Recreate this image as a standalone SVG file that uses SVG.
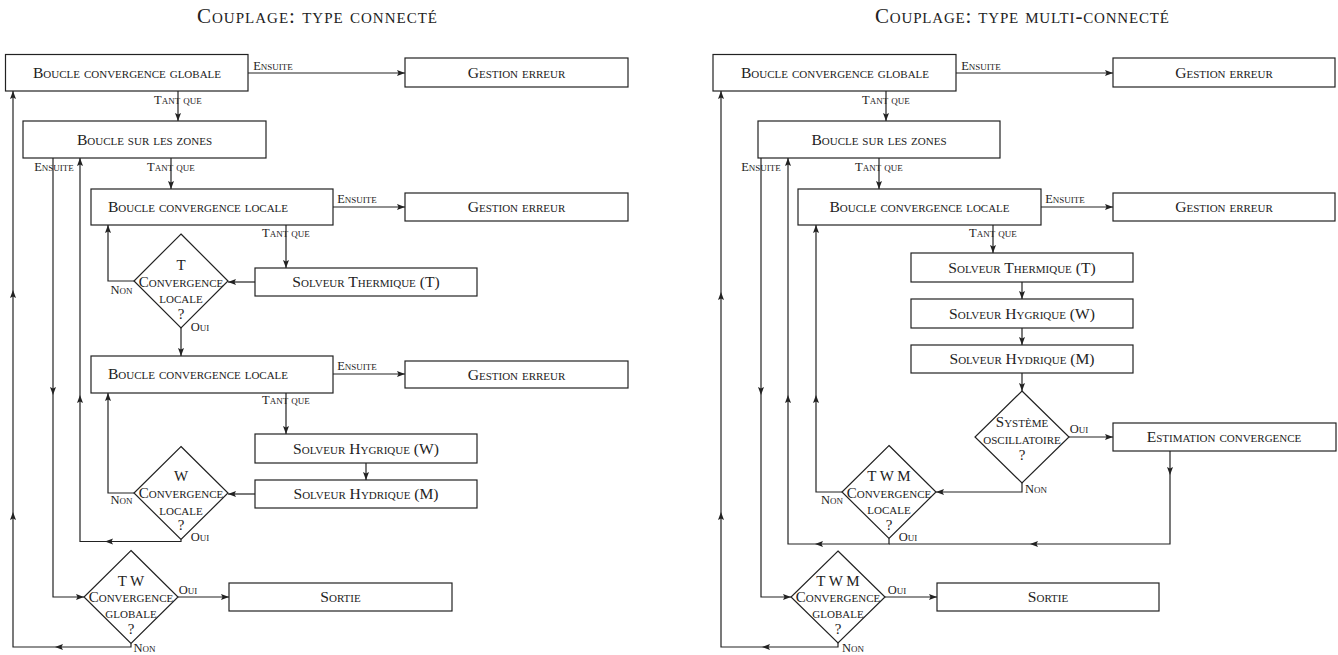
<svg xmlns="http://www.w3.org/2000/svg" width="1338" height="655" viewBox="0 0 1338 655">
<style>
.b{fill:#fff;stroke:#222;stroke-width:1.2}
.t{font-family:"Liberation Serif",serif;font-variant:small-caps;font-size:15.6px;fill:#222;text-anchor:middle}
.d{font-family:"Liberation Serif",serif;font-variant:small-caps;font-size:15px;fill:#222;text-anchor:middle}
.s{font-family:"Liberation Serif",serif;font-variant:small-caps;font-size:12.5px;fill:#222;text-anchor:middle}
.h{font-family:"Liberation Serif",serif;font-variant:small-caps;font-size:21px;fill:#222;text-anchor:middle}
.c{fill:none;stroke:#222;stroke-width:1.2}
.a{marker-end:url(#ar)}
</style>
<defs>
<marker id="ar" markerUnits="userSpaceOnUse" markerWidth="9" markerHeight="7" refX="8" refY="3" orient="auto">
<path d="M0,0 L8,3 L0,6 L1.5,3 z" fill="#222"/>
</marker>
</defs>

<text class="h" x="317" y="23" textLength="240">Couplage: type connecté</text>
<text class="h" x="1022" y="23" textLength="294">Couplage: type multi-connecté</text>

<!-- LEFT DIAGRAM -->
<g id="L_global"><rect class="b" x="5.5" y="54.5" width="242.5" height="36.5"/><text class="t" x="127" y="78">Boucle convergence globale</text></g>
<g id="L_err1"><rect class="b" x="405" y="58" width="223" height="29"/><text class="t" x="516.5" y="77.5">Gestion erreur</text></g>
<g id="L_zones"><rect class="b" x="23" y="121" width="243" height="37"/><text class="t" x="144.5" y="144.5">Boucle sur les zones</text></g>
<g id="L_local1"><rect class="b" x="91" y="189" width="242" height="36"/><text class="t" x="198" y="212">Boucle convergence locale</text></g>
<g id="L_err2"><rect class="b" x="405" y="193" width="223" height="28"/><text class="t" x="516.5" y="212">Gestion erreur</text></g>
<g id="L_solT"><rect class="b" x="255" y="268" width="222" height="28"/><text class="t" x="366" y="287">Solveur Thermique (T)</text></g>
<g id="L_d1"><polygon class="b" points="181,234 228,281 181,328 134,281"/>
<text class="d" x="181" y="270">T</text><text class="d" x="181" y="287">Convergence</text><text class="d" x="181" y="303">locale</text><text class="d" x="181" y="319">?</text></g>
<g id="L_local2"><rect class="b" x="91" y="356" width="242" height="37"/><text class="t" x="198" y="379">Boucle convergence locale</text></g>
<g id="L_err3"><rect class="b" x="405" y="361" width="223" height="27"/><text class="t" x="516.5" y="379.5">Gestion erreur</text></g>
<g id="L_solW"><rect class="b" x="255" y="434" width="222" height="29"/><text class="t" x="366" y="453.5">Solveur Hygrique (W)</text></g>
<g id="L_solM"><rect class="b" x="255" y="480" width="222" height="28"/><text class="t" x="366" y="499">Solveur Hydrique (M)</text></g>
<g id="L_d2"><polygon class="b" points="181,446.5 228,493 181,539.5 134,493"/>
<text class="d" x="181" y="481">W</text><text class="d" x="181" y="498">Convergence</text><text class="d" x="181" y="515">locale</text><text class="d" x="181" y="530">?</text></g>
<g id="L_d3"><polygon class="b" points="131,550.5 178,597 131,643.5 84,597"/>
<text class="d" x="131" y="586">T W</text><text class="d" x="131" y="602">Convergence</text><text class="d" x="131" y="618">globale</text><text class="d" x="131" y="634">?</text></g>
<g id="L_sortie"><rect class="b" x="229" y="583" width="223" height="28"/><text class="t" x="340.5" y="602">Sortie</text></g>

<!-- RIGHT DIAGRAM -->
<g id="R_global"><rect class="b" x="713" y="54.5" width="243" height="36.5"/><text class="t" x="835" y="78">Boucle convergence globale</text></g>
<g id="R_err1"><rect class="b" x="1113" y="58" width="222" height="29"/><text class="t" x="1224" y="77.5">Gestion erreur</text></g>
<g id="R_zones"><rect class="b" x="758" y="121" width="242" height="37"/><text class="t" x="879" y="144.5">Boucle sur les zones</text></g>
<g id="R_local"><rect class="b" x="798" y="189" width="243" height="36"/><text class="t" x="919.5" y="212">Boucle convergence locale</text></g>
<g id="R_err2"><rect class="b" x="1113" y="193" width="222" height="28"/><text class="t" x="1224" y="212">Gestion erreur</text></g>
<g id="R_solT"><rect class="b" x="911" y="253" width="222" height="29"/><text class="t" x="1022" y="272.5">Solveur Thermique (T)</text></g>
<g id="R_solW"><rect class="b" x="911" y="299" width="222" height="29"/><text class="t" x="1022" y="318.5">Solveur Hygrique (W)</text></g>
<g id="R_solM"><rect class="b" x="911" y="345" width="222" height="28"/><text class="t" x="1022" y="364">Solveur Hydrique (M)</text></g>
<g id="R_dsys"><polygon class="b" points="1022,391 1069,437 1022,483 975,437"/>
<text class="d" x="1022" y="427">Système</text><text class="d" x="1022" y="444">oscillatoire</text><text class="d" x="1022" y="460">?</text></g>
<g id="R_est"><rect class="b" x="1113" y="423" width="223" height="28"/><text class="t" x="1224" y="442">Estimation convergence</text></g>
<g id="R_dloc"><polygon class="b" points="889,445.5 936,492 889,538.5 842,492"/>
<text class="d" x="889" y="481">T W M</text><text class="d" x="889" y="498">Convergence</text><text class="d" x="889" y="514">locale</text><text class="d" x="889" y="530">?</text></g>
<g id="R_dglob"><polygon class="b" points="838,551 885,597 838,643 791,597"/>
<text class="d" x="838" y="586">T W M</text><text class="d" x="838" y="602">Convergence</text><text class="d" x="838" y="618">globale</text><text class="d" x="838" y="634">?</text></g>
<g id="R_sortie"><rect class="b" x="937" y="583" width="222" height="28"/><text class="t" x="1048" y="602">Sortie</text></g>

<g id="connectors">
<!-- left -->
<path class="c a" d="M248,73 H405"/>
<path class="c a" d="M178,91 V121"/>
<path class="c a" d="M171,158 V189"/>
<path class="c a" d="M333,207 H405"/>
<path class="c a" d="M286,225 V268"/>
<path class="c a" d="M255,282 H228"/>
<path class="c a" d="M134,281 H108 V225"/>
<path class="c a" d="M181,328 V356"/>
<path class="c a" d="M333,374 H405"/>
<path class="c a" d="M286,393 V434"/>
<path class="c a" d="M366,463 V480"/>
<path class="c a" d="M255,494 H228"/>
<path class="c a" d="M134,493 H108 V393"/>
<path class="c a" d="M181,539.5 V541.5 H105"/>
<path class="c a" d="M105,541.5 H80 V395"/>
<path class="c a" d="M80,395 V158"/>
<path class="c a" d="M53,158 V395"/>
<path class="c a" d="M53,395 V597 H84"/>
<path class="c a" d="M178,597 H229"/>
<path class="c a" d="M131,643.5 V647 H55"/>
<path class="c a" d="M55,647 H13 V512"/>
<path class="c a" d="M13,512 V290"/>
<path class="c a" d="M13,290 V91"/>
<!-- right -->
<path class="c a" d="M956,73 H1113"/>
<path class="c a" d="M886,91 V121"/>
<path class="c a" d="M879,158 V189"/>
<path class="c a" d="M1041,207 H1113"/>
<path class="c a" d="M993,225 V253"/>
<path class="c a" d="M1022,282 V299"/>
<path class="c a" d="M1022,328 V345"/>
<path class="c a" d="M1022,373 V391"/>
<path class="c a" d="M1069,437 H1113"/>
<path class="c a" d="M1022,483 V492 H936"/>
<path class="c a" d="M842,492 H816 V395"/>
<path class="c a" d="M816,395 V225"/>
<path class="c a" d="M889,538.5 V544 H815"/>
<path class="c a" d="M815,544 H788 V395"/>
<path class="c a" d="M788,395 V158"/>
<path class="c a" d="M1170,451 V475"/>
<path class="c a" d="M1170,475 V544 H1030"/>
<path class="c" d="M1030,544 H889"/>
<path class="c a" d="M761,158 V395"/>
<path class="c a" d="M761,395 V597 H791"/>
<path class="c a" d="M885,597 H937"/>
<path class="c a" d="M838,643 V647 H762"/>
<path class="c a" d="M762,647 H721 V512"/>
<path class="c a" d="M721,512 V292"/>
<path class="c a" d="M721,292 V91"/>
</g>

<g id="labels">
<text class="s" x="273" y="70">Ensuite</text>
<text class="s" x="178" y="104">Tant que</text>
<text class="s" x="54" y="171">Ensuite</text>
<text class="s" x="171" y="171">Tant que</text>
<text class="s" x="357" y="203">Ensuite</text>
<text class="s" x="286" y="237">Tant que</text>
<text class="s" x="121.5" y="294">Non</text>
<text class="s" x="200" y="331">Oui</text>
<text class="s" x="357" y="370">Ensuite</text>
<text class="s" x="286" y="404">Tant que</text>
<text class="s" x="121.5" y="504">Non</text>
<text class="s" x="200" y="541">Oui</text>
<text class="s" x="188" y="594">Oui</text>
<text class="s" x="144.5" y="652">Non</text>

<text class="s" x="981" y="70">Ensuite</text>
<text class="s" x="886" y="104">Tant que</text>
<text class="s" x="761" y="171">Ensuite</text>
<text class="s" x="879" y="171">Tant que</text>
<text class="s" x="1065" y="203">Ensuite</text>
<text class="s" x="993" y="237">Tant que</text>
<text class="s" x="1079" y="433">Oui</text>
<text class="s" x="1036" y="493">Non</text>
<text class="s" x="832" y="504">Non</text>
<text class="s" x="908" y="541">Oui</text>
<text class="s" x="897" y="594">Oui</text>
<text class="s" x="853" y="652">Non</text>
</g>
</svg>
